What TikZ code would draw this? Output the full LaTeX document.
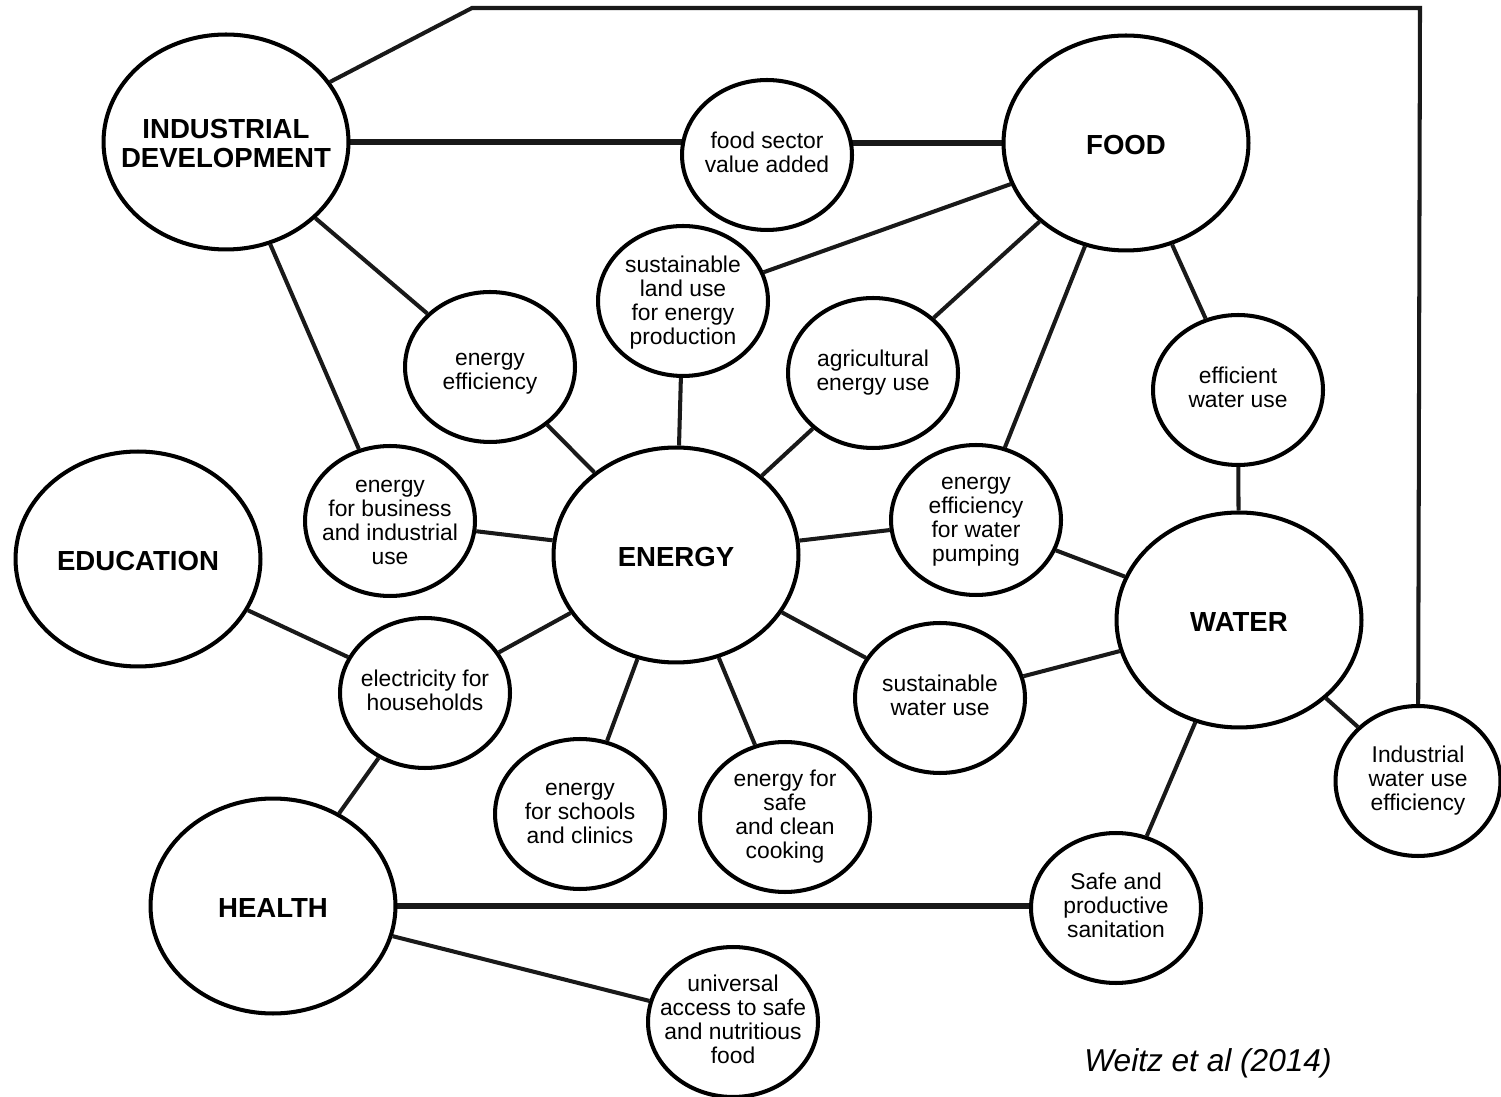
\documentclass[tikz,border=0pt]{standalone}
\usepackage{fontspec}
\setmainfont{Liberation Sans}
\usetikzlibrary{shapes.geometric}
\pgfdeclarelayer{background}
\pgfsetlayers{background,main}
\newcommand{\bt}[2][1ex]{\raisebox{-#1}{\smash{\makebox[0pt]{\begin{tabular}{@{}c@{}}#2\end{tabular}}}}}
\begin{document}
\begin{tikzpicture}[x=0.02cm,y=-0.02cm,
  bub/.style={ellipse,draw=black,line width=2.3pt,fill=white,inner sep=0pt,
    font=\fontsize{13}{13.8}\selectfont},
  small/.style={bub,minimum width=3.4cm,minimum height=3.0cm},
  big/.style={bub,minimum width=4.9cm,minimum height=4.3cm,font=\bfseries\fontsize{15.7}{16.6}\selectfont},
  link/.style={line width=2.3pt,draw=black!90},
  thick link/.style={line width=3.6pt,draw=black!90}]
\useasboundingbox (0,0) rectangle (1501,1097);
% big nodes
\node[big] (ind) at (226,142) {\bt[1.6ex]{INDUSTRIAL\\DEVELOPMENT}};
\node[big] (food) at (1126,143) {\bt[1.6ex]{FOOD}};
\node[big] (edu) at (138,559) {\bt[1.6ex]{EDUCATION}};
\node[big] (energy) at (676,555) {\bt[1.6ex]{ENERGY}};
\node[big] (water) at (1239,620) {\bt[1.6ex]{WATER}};
\node[big] (health) at (273,906) {\bt[1.6ex]{HEALTH}};
% small nodes
\node[small] (fsva) at (767,155) {\bt{food sector\\value added}};
\node[small] (slu) at (683,301) {\bt[1.3ex]{sustainable\\land use\\for energy\\production}};
\node[small] (ee) at (490,367) {\bt[1.8ex]{energy\\efficiency}};
\node[small] (aeu) at (873,373) {\bt{agricultural\\energy use}};
\node[small] (ewu) at (1238,390) {\bt{efficient\\water use}};
\node[small] (ebi) at (390,521) {\bt[1.3ex]{energy\\for business\\and industrial\\use}};
\node[small] (eewp) at (976,520) {\bt{energy\\efficiency\\for water\\pumping}};
\node[small] (efh) at (425,693) {\bt{electricity for\\households}};
\node[small] (swu) at (940,698) {\bt{sustainable\\water use}};
\node[small,minimum width=3.3cm] (iwue) at (1418,781) {\bt{Industrial\\water use\\efficiency}};
\node[small] (esc) at (580,814) {\bt{energy\\for schools\\and clinics}};
\node[small] (ecc) at (785,817) {\bt{energy for\\safe\\and clean\\cooking}};
\node[small] (sps) at (1116,908) {\bt{Safe and\\productive\\sanitation}};
\node[small] (uaf) at (733,1022) {\bt{universal\\access to safe\\and nutritious\\food}};
% citation
\node[font=\itshape\fontsize{18}{20}\selectfont] (cite) at (1208,1063) {Weitz et al (2014)};
% connectors
\coordinate (c1) at (472,8);
\coordinate (c2) at (1420,8);
\begin{pgfonlayer}{background}
\draw[link] (ind.30) -- (c1) -- (c2) -- (iwue.center);
\draw[thick link] (ind.center) -- (ind.center -| fsva.center);
\draw[thick link] (fsva.center |- food.center) -- (food.center);
\draw[link] (ind) -- (ee);
\draw[link] (ind) -- (ebi);
\draw[link] (food) -- (slu);
\draw[link] (food) -- (aeu);
\draw[link] (food) -- (eewp);
\draw[link] (food) -- (ewu);
\draw[link] (slu) -- (energy);
\draw[link] (ee) -- (energy);
\draw[link] (aeu) -- (energy);
\draw[link] (ebi) -- (energy);
\draw[link] (eewp) -- (energy);
\draw[link] (eewp) -- (water);
\draw[link] (ewu) -- (water);
\draw[link] (energy) -- (efh);
\draw[link] (energy) -- (esc);
\draw[link] (energy) -- (ecc);
\draw[link] (energy) -- (swu);
\draw[link] (swu) -- (water);
\draw[link] (water) -- (iwue);
\draw[link] (water) -- (sps);
\draw[link] (edu) -- (efh);
\draw[link] (efh) -- (health);
\draw[thick link] (health.center) -- (health.center -| sps.center);
\draw[link] (health) -- (uaf);
\end{pgfonlayer}
\end{tikzpicture}
\end{document}
